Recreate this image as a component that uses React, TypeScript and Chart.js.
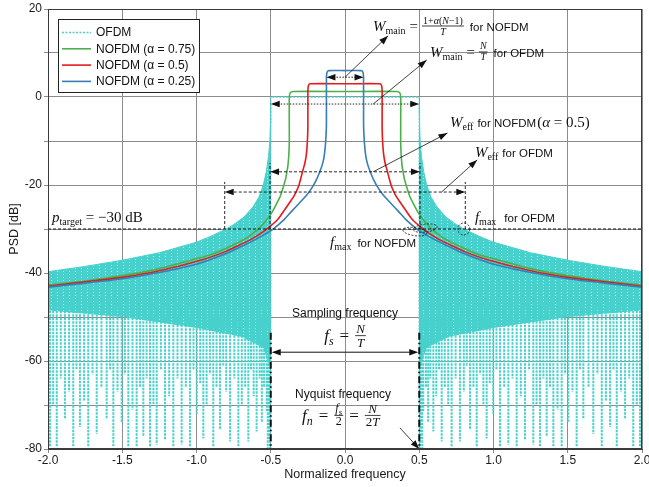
import React, { useEffect, useRef } from 'react';
import { Chart, registerables } from 'chart.js';

Chart.register(...registerables);

// ---------- series meta ----------
const seriesNames = ['OFDM', 'NOFDM (α = 0.75)', 'NOFDM (α = 0.5)', 'NOFDM (α = 0.25)'];
const seriesColors = ['#48d1cc', '#4daf4a', '#e41a1c', '#377eb8'];

// ---------- axis ticks ----------
const xTicks = [-2, -1.5, -1, -0.5, 0, 0.5, 1, 1.5, 2];
const yLabelTicks = [20, 0, -20, -40, -60, -80];

// ---------- NOFDM curves (right half, mirrored for left) ----------
const greenX = [0, 0.35, 0.368, 0.375, 0.375, 0.378, 0.384, 0.39, 0.4, 0.416, 0.435, 0.46, 0.49, 0.53, 0.578, 0.62, 0.66, 0.75, 0.9, 1.04, 1.25, 1.5, 1.75, 2.0];
const greenY = [1.25, 1.25, 1.0, 0, -10, -13, -15.5, -16.8, -18.6, -20.5, -22.5, -24.2, -26.1, -28, -29.8, -31, -32, -33.6, -35.8, -37.1, -39, -40.6, -41.8, -42.7];

const redX = [0, 0.235, 0.246, 0.25, 0.25, 0.254, 0.26, 0.27, 0.283, 0.3, 0.314, 0.34, 0.375, 0.41, 0.452, 0.5, 0.55, 0.63, 0.72, 0.81, 0.96, 1.25, 1.5, 1.75, 2.0];
const redY = [3.0, 3.0, 2.6, 1.5, -7, -10.5, -13, -15, -16.6, -18.8, -20.4, -22.3, -24.1, -25.8, -27.8, -29.3, -30.6, -32.3, -33.8, -35.2, -37, -39.5, -41, -42, -43];

const blueX = [0, 0.11, 0.121, 0.125, 0.125, 0.129, 0.135, 0.143, 0.155, 0.168, 0.19, 0.22, 0.26, 0.31, 0.36, 0.414, 0.48, 0.55, 0.62, 0.7, 0.78, 0.91, 1.0, 1.25, 1.5, 1.75, 2.0];
const blueY = [6.0, 6.0, 5.6, 4.5, -6, -9.5, -12, -14, -15.6, -16.8, -18.6, -20.5, -22.4, -24.2, -26, -28, -29.9, -31.4, -32.7, -34, -35.3, -37, -38, -39.9, -41.3, -42.3, -43.2];

// ---------- OFDM ----------
const ofdmMainX = [-0.5, -0.5, 0.5, 0.5];
const ofdmMainY = [-80, 0, 0, -80];
// upper envelope of the side lobes (right side, mirrored)
const ofdmEnvX = [0.5, 0.502, 0.506, 0.515, 0.53, 0.55, 0.58, 0.62, 0.68, 0.75, 0.8, 0.9, 1.0, 1.25, 1.5, 1.75, 2.0];
const ofdmEnvY = [-2, -6, -10, -13.5, -17, -20, -22.8, -25, -27.3, -29, -30, -31.6, -33, -35.4, -37.1, -38.5, -39.7];
// lower edge of the dense oscillation band
const ofdmFloorX = [0.5, 0.55, 0.7, 1.0, 1.5, 2.0];
const ofdmFloorY = [-62, -57, -54.5, -52.5, -50, -48.5];
// deep nulls below the band
const spikeTop = -47;
const spikeX = [0.505, 0.512, 0.52, 0.527, 0.545, 0.56, 0.575, 0.595, 0.615, 0.633, 0.651, 0.672, 0.695, 0.718, 0.745, 0.774, 0.8, 0.82, 0.842, 0.865, 0.887, 0.91, 0.932, 0.954, 0.975, 0.998, 1.02, 1.044, 1.072, 1.1, 1.128, 1.156, 1.184, 1.212, 1.24, 1.268, 1.29, 1.313, 1.336, 1.358, 1.38, 1.403, 1.431, 1.459, 1.482, 1.504, 1.532, 1.56, 1.582, 1.605, 1.64, 1.672, 1.7, 1.729, 1.757, 1.785, 1.808, 1.83, 1.858, 1.886, 1.914, 1.941, 1.965, 1.987];
const spikeDepth = [-80, -78, -80, -71.5, -66, -74, -64, -76, -68, -62, -78.3, -66, -70, -79.5, -64, -78.3, -67, -61, -75.7, -66, -79.5, -63, -70, -77.6, -65, -72, -62, -79.5, -66, -79, -64, -79.5, -68, -78, -62, -79, -70, -79.5, -64, -77, -66, -79.5, -71, -79.5, -63, -74, -67, -79.5, -62, -73, -66, -76.6, -63, -79.5, -69, -75, -62, -79.5, -67, -73, -64, -79.5, -70, -79.5];

// ---------- helpers ----------
type Pt = { x: number; y: number | null };
function mirror(xs: number[], ys: number[]): Pt[] {
  const pts: Pt[] = [];
  for (let i = xs.length - 1; i >= 0; i--) if (xs[i] !== 0) pts.push({ x: -xs[i], y: ys[i] });
  for (let i = 0; i < xs.length; i++) pts.push({ x: xs[i], y: ys[i] });
  return pts;
}
function side(xs: number[], ys: number[], sign: number): Pt[] {
  const pts: Pt[] = xs.map((x, i) => ({ x: sign * x, y: ys[i] }));
  return sign < 0 ? pts.reverse() : pts;
}

const SERIF = '"Liberation Serif", "DejaVu Serif", serif';
const SANS = '"Liberation Sans", Arial, sans-serif';
const I = (s: number) => `italic ${s}px ${SERIF}`;
const R = (s: number) => `${s}px ${SERIF}`;
const S = (s: number) => `${s}px ${SANS}`;

type Part = [string, string, number?];
function runW(ctx: CanvasRenderingContext2D, parts: Part[]) {
  let w = 0;
  for (const p of parts) { ctx.font = p[1]; w += ctx.measureText(p[0]).width; }
  return w;
}
function run(ctx: CanvasRenderingContext2D, x: number, y: number, parts: Part[]) {
  for (const p of parts) { ctx.font = p[1]; ctx.fillText(p[0], x, y + (p[2] || 0)); x += ctx.measureText(p[0]).width; }
  return x;
}
function fracW(ctx: CanvasRenderingContext2D, num: Part[], den: Part[], pad = 1) {
  return Math.max(runW(ctx, num), runW(ctx, den)) + 2 * pad;
}
function frac(ctx: CanvasRenderingContext2D, x: number, barY: number, num: Part[], den: Part[], numDy: number, denDy: number, pad = 1) {
  const wn = runW(ctx, num), wd = runW(ctx, den);
  const w = Math.max(wn, wd) + 2 * pad;
  run(ctx, x + (w - wn) / 2, barY - numDy, num);
  run(ctx, x + (w - wd) / 2, barY + denDy, den);
  ctx.fillRect(x, barY - 0.4, w, 0.8);
  return x + w;
}
function seg(ctx: CanvasRenderingContext2D, x1: number, y1: number, x2: number, y2: number, dash: number[], w = 1, color = '#111') {
  ctx.save();
  ctx.strokeStyle = color; ctx.lineWidth = w; ctx.setLineDash(dash);
  ctx.beginPath(); ctx.moveTo(x1, y1); ctx.lineTo(x2, y2); ctx.stroke();
  ctx.restore();
}
function head(ctx: CanvasRenderingContext2D, x1: number, y1: number, x2: number, y2: number, len = 9, half = 3.2, color = '#111') {
  const a = Math.atan2(y2 - y1, x2 - x1);
  const c = Math.cos(a), s = Math.sin(a);
  ctx.save(); ctx.fillStyle = color; ctx.beginPath();
  ctx.moveTo(x2, y2);
  ctx.lineTo(x2 - len * c + half * s, y2 - len * s - half * c);
  ctx.lineTo(x2 - len * c - half * s, y2 - len * s + half * c);
  ctx.closePath(); ctx.fill(); ctx.restore();
}
function arrow(ctx: CanvasRenderingContext2D, x1: number, y1: number, x2: number, y2: number, dash: number[], w = 0.8) {
  seg(ctx, x1, y1, x2, y2, dash, w);
  head(ctx, x1, y1, x2, y2);
}
function dbl(ctx: CanvasRenderingContext2D, x1: number, y: number, x2: number, dash: number[], w = 0.9) {
  seg(ctx, x1 + 4, y, x2 - 4, y, dash, w);
  head(ctx, x2, y, x1, y);
  head(ctx, x1, y, x2, y);
}

const annotationPlugin = {
  id: 'annotations',
  afterDatasetsDraw(chart: any) {
    const ctx: CanvasRenderingContext2D = chart.ctx;
    const xs = chart.scales.x, ys = chart.scales.y;
    const X = (v: number) => xs.getPixelForValue(v);
    const Y = (v: number) => ys.getPixelForValue(v);
    const ca = chart.chartArea;
    ctx.save();
    ctx.beginPath(); ctx.rect(ca.left, ca.top, ca.right - ca.left, ca.bottom - ca.top); ctx.clip();
    ctx.fillStyle = '#111';
    ctx.textAlign = 'left';
    ctx.textBaseline = 'alphabetic';

    // p_target line
    seg(ctx, ca.left, Y(-30), ca.right, Y(-30), [3, 2], 1);

    // W_main arrows
    dbl(ctx, X(-0.125), Y(4.5), X(0.125), [1.5, 1.5]);
    dbl(ctx, X(-0.5), Y(-1.6), X(0.5), [1.5, 1.5]);
    arrow(ctx, X(0), Y(4.5), X(0.29), Y(13.9), []);
    arrow(ctx, X(0.19), Y(-1.6), X(0.55), Y(8.4), []);

    // W_eff for NOFDM
    seg(ctx, X(-0.505), Y(-30), X(-0.505), Y(-15), [3, 2], 0.9);
    seg(ctx, X(0.505), Y(-30), X(0.505), Y(-15), [3, 2], 0.9);
    dbl(ctx, X(-0.505), Y(-17), X(0.505), [3, 2]);
    arrow(ctx, X(0.19), Y(-17), X(0.69), Y(-8.2), []);

    // W_eff for OFDM
    seg(ctx, X(-0.81), Y(-30), X(-0.81), Y(-19.3), [3, 2], 0.9);
    seg(ctx, X(0.81), Y(-30), X(0.81), Y(-19.3), [3, 2], 0.9);
    dbl(ctx, X(-0.81), Y(-21.6), X(0.81), [3, 2]);
    arrow(ctx, X(0.65), Y(-21.6), X(0.89), Y(-14.3), []);

    // f_max markers
    ctx.save();
    ctx.strokeStyle = '#111'; ctx.lineWidth = 0.8; ctx.setLineDash([2, 1.5]);
    ctx.beginPath(); ctx.arc(X(0.8), Y(-30), 6, 0, Math.PI * 2); ctx.stroke();
    ctx.beginPath(); ctx.ellipse(X(0.47), Y(-30.6), 12, 4, 0.15, 0, Math.PI * 2); ctx.stroke();
    ctx.beginPath(); ctx.ellipse(X(0.54), Y(-29.8), 12, 4, -0.12, 0, Math.PI * 2); ctx.stroke();
    ctx.restore();

    // Sampling frequency markers
    ctx.save();
    ctx.strokeStyle = '#111'; ctx.lineWidth = 2; ctx.setLineDash([7, 3, 1.5, 3]);
    ctx.beginPath(); ctx.moveTo(X(-0.5), Y(-53.6)); ctx.lineTo(X(-0.5), Y(-80)); ctx.stroke();
    ctx.beginPath(); ctx.moveTo(X(0.5), Y(-53.6)); ctx.lineTo(X(0.5), Y(-80)); ctx.stroke();
    ctx.restore();
    dbl(ctx, X(-0.5) + 1, Y(-58), X(0.5) - 1, [], 1);
    arrow(ctx, X(0.37), Y(-75.2), X(0.5), Y(-80), []);

    // ---- texts ----
    let x: number, y: number;
    // W_main NOFDM
    x = X(0.189); y = Y(15.0);
    x = run(ctx, x, y, [['W', I(15)], ['main', R(10), 3]]);
    x += 4; x = run(ctx, x, y, [['=', R(15)]]); x += 4;
    x = frac(ctx, x, y - 5, [['1+', R(10)], ['α', I(10)], ['(', R(10)], ['N', I(10)], ['−1)', R(10)]], [['T', I(10)]], 2.5, 8.5, 1);
    x += 6; run(ctx, x, y, [['for NOFDM', S(11.5)]]);

    // W_main OFDM
    x = X(0.572); y = Y(9.1);
    x = run(ctx, x, y, [['W', I(15)], ['main', R(10), 3]]);
    x += 4; x = run(ctx, x, y, [['=', R(15)]]); x += 4;
    x = frac(ctx, x, y - 5, [['N', I(10)]], [['T', I(10)]], 2.5, 8.5, 1);
    x += 6; run(ctx, x, y, [['for OFDM', S(11.5)]]);

    // W_eff NOFDM
    x = X(0.707); y = Y(-6.8);
    x = run(ctx, x, y, [['W', I(15)], ['eff', R(10), 3]]);
    x += 4; x = run(ctx, x, y, [['for NOFDM', S(11.5)]]);
    x += 1; run(ctx, x, y, [['(', R(15)], ['α', I(15)], [' = 0.5)', R(15)]]);

    // W_eff OFDM
    x = X(0.875); y = Y(-13.6);
    x = run(ctx, x, y, [['W', I(15)], ['eff', R(10), 3]]);
    x += 4; run(ctx, x, y, [['for OFDM', S(11.5)]]);

    // f_max OFDM
    x = X(0.875); y = Y(-28.4);
    x = run(ctx, x, y, [['f', I(15)], ['max', R(10), 3]]);
    x += 8; run(ctx, x, y, [['for OFDM', S(11.5)]]);

    // f_max NOFDM
    x = X(-0.101); y = Y(-34.1);
    x = run(ctx, x, y, [['f', I(15)], ['max', R(10), 3]]);
    x += 6; run(ctx, x, y, [['for NOFDM', S(11.5)]]);

    // p_target
    x = X(-1.973); y = Y(-28.4);
    run(ctx, x, y, [['p', I(15)], ['target', R(10), 3], [' = −30 dB', R(15)]]);

    // Sampling / Nyquist captions
    ctx.textAlign = 'center';
    ctx.font = S(12);
    ctx.fillText('Sampling frequency', X(0), Y(-50));
    ctx.fillText('Nyquist frequency', X(-0.013), Y(-68.4));
    ctx.textAlign = 'left';

    // f_s = N/T
    {
      const fsParts: Part[] = [['f', I(17)], ['s', I(12), 4]];
      const eq: Part[] = [['=', R(17)]];
      const num: Part[] = [['N', I(13)]], den: Part[] = [['T', I(13)]];
      const total = runW(ctx, fsParts) + 6 + runW(ctx, eq) + 6 + fracW(ctx, num, den, 1);
      y = Y(-55.5);
      x = X(0) - total / 2;
      x = run(ctx, x, y, fsParts); x += 6;
      x = run(ctx, x, y, eq); x += 6;
      frac(ctx, x, y - 5.5, num, den, 2.5, 11, 1);
    }
    // f_n = f_s/2 = N/2T
    {
      const fn: Part[] = [['f', I(17)], ['n', I(12), 4]];
      const eq: Part[] = [['=', R(17)]];
      const n1: Part[] = [['f', I(12)], ['s', I(9), 3]], d1: Part[] = [['2', R(12)]];
      const n2: Part[] = [['N', I(13)]], d2: Part[] = [['2', R(13)], ['T', I(13)]];
      const total = runW(ctx, fn) + 6 + runW(ctx, eq) + 6 + fracW(ctx, n1, d1) + 6 + runW(ctx, eq) + 6 + fracW(ctx, n2, d2);
      y = Y(-73.6);
      x = X(-0.025) - total / 2;
      x = run(ctx, x, y, fn); x += 6;
      x = run(ctx, x, y, eq); x += 6;
      x = frac(ctx, x, y - 5.5, n1, d1, 3, 10, 1); x += 6;
      x = run(ctx, x, y, eq); x += 6;
      frac(ctx, x, y - 5.5, n2, d2, 2.5, 11, 1);
    }
    ctx.restore();
  },
  afterDraw(chart: any) {
    const ctx: CanvasRenderingContext2D = chart.ctx;
    const ca = chart.chartArea;
    ctx.save();
    // frame
    ctx.strokeStyle = '#3a3a3a'; ctx.lineWidth = 1;
    ctx.strokeRect(Math.round(ca.left) + 0.5, Math.round(ca.top) + 0.5, Math.round(ca.right - ca.left) - 1, Math.round(ca.bottom - ca.top) - 1);
    // legend
    const bx = Math.round(ca.left) + 10, by = Math.round(ca.top) + 10, bw = 141, bh = 73;
    ctx.fillStyle = '#fff'; ctx.fillRect(bx, by, bw, bh);
    ctx.strokeStyle = '#222'; ctx.strokeRect(bx + 0.5, by + 0.5, bw, bh);
    seriesNames.forEach((name, i) => {
      const ly = by + 13.5 + i * 16.3;
      ctx.strokeStyle = seriesColors[i];
      ctx.lineWidth = i === 0 ? 1.3 : 1.6;
      ctx.setLineDash(i === 0 ? [2, 1.5] : []);
      ctx.beginPath(); ctx.moveTo(bx + 4, ly); ctx.lineTo(bx + 33, ly); ctx.stroke();
      ctx.setLineDash([]);
      ctx.fillStyle = '#111'; ctx.font = S(12); ctx.textBaseline = 'middle'; ctx.textAlign = 'left';
      ctx.fillText(name, bx + 38, ly + 0.5);
    });
    ctx.restore();
  },
};

export default function App() {
  const ref = useRef<HTMLCanvasElement>(null);
  useEffect(() => {
    const canvas = ref.current!;
    const ctx = canvas.getContext('2d')!;
    const tile = document.createElement('canvas');
    tile.width = 6; tile.height = 3;
    const tg = tile.getContext('2d')!;
    tg.fillStyle = seriesColors[0]; tg.fillRect(0, 0, 6, 3);
    tg.fillStyle = '#b9eeeb'; tg.fillRect(3, 1, 1, 1);
    const pattern = ctx.createPattern(tile, 'repeat');

    const spikes: Pt[] = [];
    [-1, 1].forEach((sg) => {
      const n = Math.min(spikeX.length, spikeDepth.length);
      for (let i = 0; i < n; i++) {
        spikes.push({ x: sg * spikeX[i], y: spikeTop });
        spikes.push({ x: sg * spikeX[i], y: spikeDepth[i] });
        spikes.push({ x: sg * spikeX[i], y: null });
      }
    });

    const line = (data: Pt[], color: string, extra: any = {}) => ({
      data, borderColor: color, borderWidth: 1.6, pointRadius: 0, fill: false, tension: 0, spanGaps: false, ...extra,
    });
    const cyan = seriesColors[0];
    const chart = new Chart(canvas, {
      type: 'line',
      data: {
        datasets: [
          line(mirror(blueX, blueY), seriesColors[3], { label: seriesNames[3], tension: 0.2 }),
          line(mirror(redX, redY), seriesColors[2], { label: seriesNames[2], tension: 0.2 }),
          line(mirror(greenX, greenY), seriesColors[1], { label: seriesNames[1], tension: 0.2 }),
          line(ofdmMainX.map((x, i) => ({ x, y: ofdmMainY[i] })), cyan, { label: seriesNames[0], borderWidth: 1.3, borderDash: [2, 1.5] }),
          line(spikes, cyan, { label: 'OFDM nulls', borderWidth: 2, borderDash: [2.5, 1] }),
          line(side(ofdmEnvX, ofdmEnvY, 1), cyan, { label: 'OFDM R', borderWidth: 1, fill: '+1', backgroundColor: pattern }),
          line(side(ofdmFloorX, ofdmFloorY, 1), 'rgba(0,0,0,0)', { label: 'OFDM R floor', borderWidth: 1 }),
          line(side(ofdmEnvX, ofdmEnvY, -1), cyan, { label: 'OFDM L', borderWidth: 1, fill: '+1', backgroundColor: pattern }),
          line(side(ofdmFloorX, ofdmFloorY, -1), 'rgba(0,0,0,0)', { label: 'OFDM L floor', borderWidth: 1 }),
        ],
      },
      options: {
        animation: false,
        responsive: true,
        maintainAspectRatio: false,
        events: [],
        layout: { padding: { top: 9, right: 7, left: 0, bottom: 0 } },
        plugins: { legend: { display: false }, tooltip: { enabled: false }, title: { display: false } },
        scales: {
          x: {
            type: 'linear', min: -2, max: 2,
            afterBuildTicks: (s: any) => { s.ticks = xTicks.map((v) => ({ value: v })); },
            ticks: { callback: (v: any) => Number(v).toFixed(1), font: { family: SANS, size: 12 }, color: '#1a1a1a', maxRotation: 0, autoSkip: false, padding: 0 },
            grid: { color: '#8c8c8c', lineWidth: 1, tickLength: 4 },
            border: { color: '#3a3a3a', width: 1 },
            title: { display: true, text: 'Normalized frequency', font: { family: SANS, size: 12.5 }, color: '#1a1a1a', padding: { top: 0, bottom: 5 } },
            afterFit: (s: any) => { s.height = 38; s.paddingLeft = 0; s.paddingRight = 0; },
          },
          y: {
            type: 'linear', min: -80, max: 20,
            ticks: { stepSize: 10, callback: (v: any) => (yLabelTicks.includes(Number(v)) ? String(v) : ''), font: { family: SANS, size: 12 }, color: '#1a1a1a', padding: 2 },
            grid: { color: '#8c8c8c', lineWidth: 1, tickLength: 4 },
            border: { color: '#3a3a3a', width: 1 },
            title: { display: true, text: 'PSD [dB]', font: { family: SANS, size: 12.5 }, color: '#1a1a1a', padding: { top: 7, bottom: 0 } },
            afterFit: (s: any) => { s.width = 48; s.paddingTop = 0; s.paddingBottom = 0; },
          },
        },
      } as any,
      plugins: [annotationPlugin],
    });
    return () => chart.destroy();
  }, []);
  return (
    <div style={{ position: 'absolute', left: 0, top: 0, width: 649, height: 487 }}>
      <canvas ref={ref} />
    </div>
  );
}
